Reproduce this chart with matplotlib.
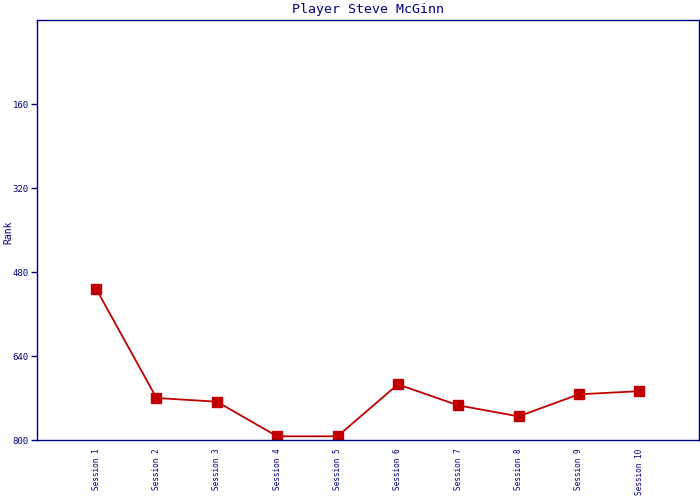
import matplotlib
matplotlib.use("Agg")
import matplotlib.pyplot as plt

sessions = [f"Session {i}" for i in range(1, 11)]
rank = [512, 720, 727, 793, 793, 694, 734, 755, 713, 707]
yticks = [160, 320, 480, 640, 800]

navy = "#000080"
red = "#c00000"
mono = "DejaVu Sans Mono"

fig = plt.figure(figsize=(7, 5), dpi=100)
ax = fig.add_axes([37 / 700, 60 / 500, 662 / 700, 420 / 500])

x = list(range(len(sessions)))
ax.plot(x, rank, color=red, linewidth=1.3, marker="s", markersize=7,
        markerfacecolor=red, markeredgecolor=red)

ax.set_ylim(800, 0)
ax.set_xlim(-0.98, 9.99)
ax.set_yticks(yticks)
ax.set_yticklabels([str(v) for v in yticks], fontsize=6.5, color=navy, family=mono)
ax.set_xticks(x)
ax.set_xticklabels(sessions, rotation=90, fontsize=5.6, color=navy, family=mono,
                   va="top")
ax.tick_params(axis="y", direction="out", length=4, color=navy, width=1, pad=2)
ax.tick_params(axis="x", length=0, pad=6)

for sp in ax.spines.values():
    sp.set_color(navy)
    sp.set_linewidth(1)

ax.set_title("Player Steve McGinn", fontsize=9.5, color=navy, family=mono, pad=5)
fig.text(8 / 700, 1 - 232 / 500, "Rank", rotation=90, fontsize=7, color=navy,
         family=mono, ha="center", va="center")

fig.savefig("out.png", dpi=100)
